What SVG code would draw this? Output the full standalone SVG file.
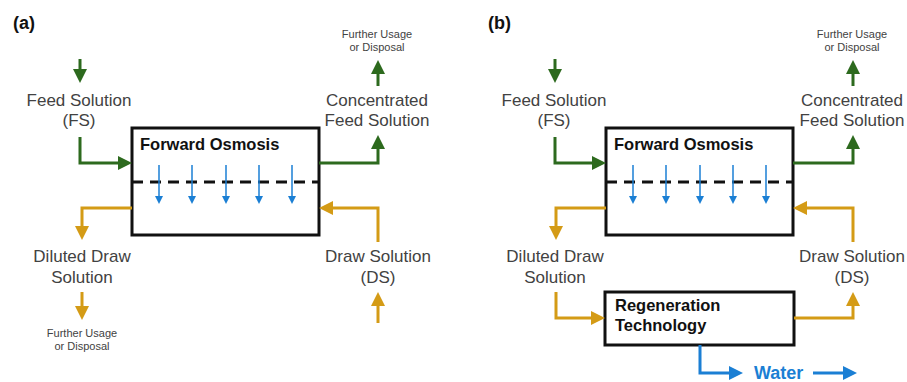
<svg xmlns="http://www.w3.org/2000/svg" width="907" height="382" viewBox="0 0 907 382">
<style>
text{font-family:"Liberation Sans",Arial,sans-serif;fill:#424242}
.lbl{font-size:17px;text-anchor:middle}
.sm{font-size:11px;text-anchor:middle}
.b{font-weight:bold;fill:#111;font-size:16.5px}
.pl{font-weight:bold;fill:#111;font-size:18px}
.box{fill:#fff;stroke:#111;stroke-width:3}
.mem{stroke:#111;stroke-width:3;stroke-dasharray:11 7;fill:none}
.g{stroke:#2d6a1e;stroke-width:3;fill:none;marker-end:url(#ag)}
.o{stroke:#d49b16;stroke-width:3;fill:none;marker-end:url(#ao)}
.bl{stroke:#1b7fd4;stroke-width:1.5;fill:none;marker-end:url(#ab)}
.w{stroke:#1b7fd4;stroke-width:3;fill:none;marker-end:url(#aw)}
.wt{font-weight:bold;font-size:18px;fill:#1b7fd4}
</style>
<defs>
<marker id="ag" viewBox="0 0 14 14" refX="5" refY="7" markerWidth="14" markerHeight="14" markerUnits="userSpaceOnUse" orient="auto"><path d="M0,0 L14,7 L0,14 z" fill="#2d6a1e"/></marker>
<marker id="ao" viewBox="0 0 14 14" refX="5" refY="7" markerWidth="14" markerHeight="14" markerUnits="userSpaceOnUse" orient="auto"><path d="M0,0 L14,7 L0,14 z" fill="#d49b16"/></marker>
<marker id="ab" viewBox="0 0 8 8" refX="3" refY="4" markerWidth="8" markerHeight="8" markerUnits="userSpaceOnUse" orient="auto"><path d="M0,0 L8,4 L0,8 z" fill="#1b7fd4"/></marker>
<marker id="aw" viewBox="0 0 14 14" refX="5" refY="7" markerWidth="14" markerHeight="14" markerUnits="userSpaceOnUse" orient="auto"><path d="M0,0 L14,7 L0,14 z" fill="#1b7fd4"/></marker>
</defs>

<!-- Panel (a) -->
<g id="label-a"><text class="pl" x="13" y="29">(a)</text></g>
<g id="a-fo">
<rect class="box" x="132" y="128" width="187" height="107"/>
<line class="mem" x1="132" y1="182" x2="319" y2="182"/>
<text class="b" x="140" y="150">Forward Osmosis</text>
</g>
<g id="a-fs"><text class="lbl" x="79" y="106">Feed Solution</text><text class="lbl" x="79" y="126">(FS)</text></g>
<g id="a-cfs"><text class="lbl" x="377" y="106">Concentrated</text><text class="lbl" x="377" y="126">Feed Solution</text></g>
<g id="a-fu1"><text class="sm" x="377" y="38">Further Usage</text><text class="sm" x="377" y="51">or Disposal</text></g>
<g id="a-dds"><text class="lbl" x="82" y="262">Diluted Draw</text><text class="lbl" x="82" y="283">Solution</text></g>
<g id="a-fu2"><text class="sm" x="82" y="337">Further Usage</text><text class="sm" x="82" y="350">or Disposal</text></g>
<g id="a-ds"><text class="lbl" x="378" y="262">Draw Solution</text><text class="lbl" x="378" y="283">(DS)</text></g>

<!-- Panel (b) -->
<g id="label-b"><text class="pl" x="488" y="29">(b)</text></g>
<g id="b-fo">
<rect class="box" x="606" y="128" width="187" height="107"/>
<line class="mem" x1="606" y1="182" x2="793" y2="182"/>
<text class="b" x="614" y="150">Forward Osmosis</text>
</g>
<g id="b-fs"><text class="lbl" x="554" y="106">Feed Solution</text><text class="lbl" x="554" y="126">(FS)</text></g>
<g id="b-cfs"><text class="lbl" x="852" y="106">Concentrated</text><text class="lbl" x="852" y="126">Feed Solution</text></g>
<g id="b-fu1"><text class="sm" x="852" y="38">Further Usage</text><text class="sm" x="852" y="51">or Disposal</text></g>
<g id="b-dds"><text class="lbl" x="555" y="262">Diluted Draw</text><text class="lbl" x="555" y="283">Solution</text></g>
<g id="b-ds"><text class="lbl" x="852" y="262">Draw Solution</text><text class="lbl" x="852" y="283">(DS)</text></g>
<g id="b-regen">
<rect class="box" x="605" y="292" width="189" height="53"/>
<text class="b" x="615" y="311">Regeneration</text>
<text class="b" x="615" y="331">Technology</text>
</g>
<g id="b-water"><text class="wt" x="754" y="379">Water</text></g>

<g id="connectors">
<!-- panel a -->
<path class="g" d="M80,59 V74"/>
<path class="g" d="M80,137 V163 H123"/>
<path class="g" d="M319,163 H378 V144"/>
<path class="g" d="M378,86 V69"/>
<path class="o" d="M132,208 H82 V231"/>
<path class="o" d="M82,292 V311"/>
<path class="o" d="M378,242 V208 H328"/>
<path class="o" d="M378,323 V301"/>
<path class="bl" d="M159,165 V199"/>
<path class="bl" d="M192,165 V199"/>
<path class="bl" d="M226,165 V199"/>
<path class="bl" d="M259,165 V199"/>
<path class="bl" d="M292,165 V199"/>
<!-- panel b -->
<path class="g" d="M555,59 V74"/>
<path class="g" d="M555,137 V163 H597"/>
<path class="g" d="M793,163 H853 V144"/>
<path class="g" d="M853,86 V69"/>
<path class="o" d="M606,208 H556 V231"/>
<path class="o" d="M556,292 V318 H596"/>
<path class="o" d="M794,318 H853 V301"/>
<path class="o" d="M853,242 V208 H802"/>
<path class="bl" d="M633,165 V199"/>
<path class="bl" d="M666,165 V199"/>
<path class="bl" d="M700,165 V199"/>
<path class="bl" d="M733,165 V199"/>
<path class="bl" d="M766,165 V199"/>
<path class="w" d="M700,345 V373 H734"/>
<path class="w" d="M813,373 H848"/>
</g>
</svg>
